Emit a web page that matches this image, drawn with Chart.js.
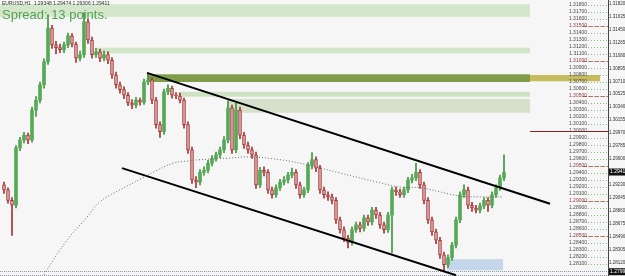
<!DOCTYPE html>
<html>
<head>
<meta charset="utf-8">
<script src="https://cdn.jsdelivr.net/npm/chart.js@4.4.1/dist/chart.umd.min.js"></script>
<style>
  html, body { margin: 0; padding: 0; background: #f6f6f6; }
  #wrap { width: 625px; height: 276px; }
</style>
</head>
<body>
<div id="wrap"><canvas id="chart" width="625" height="276"></canvas></div>
<script>
/* ── EURUSD H1 candles ── */
const opens = [
  1.2923,1.2916,1.2901,1.2894,1.2976,1.2987,1.2994,1.2987,1.3030,1.3044,
  1.3066,1.3099,1.3147,1.3123,1.3119,1.3116,1.3123,1.3136,1.3124,1.3104,
  1.3109,1.3156,1.3130,1.3109,1.3113,1.3104,1.3109,1.3101,1.3080,1.3066,
  1.3059,1.3051,1.3040,1.3037,1.3044,1.3041,1.3070,1.3073,1.3044,1.3009,
  1.2999,1.3056,1.3061,1.3051,1.3050,1.3044,1.3009,1.2973,1.2930,1.2927,
  1.2941,1.2944,1.2954,1.2961,1.2966,1.2973,1.2987,1.3033,1.2973,1.3030,
  1.2994,1.2980,1.2973,1.2966,1.2923,1.2944,1.2941,1.2916,1.2909,1.2919,
  1.2927,1.2930,1.2937,1.2941,1.2923,1.2909,1.2916,1.2951,1.2959,1.2947,
  1.2916,1.2909,1.2906,1.2901,1.2873,1.2859,1.2847,1.2841,1.2859,1.2866,
  1.2861,1.2876,1.2870,1.2887,1.2880,1.2866,1.2859,1.2880,1.2916,1.2913,
  1.2909,1.2916,1.2930,1.2933,1.2941,1.2923,1.2901,1.2873,1.2856,1.2844,
  1.2823,1.2809,1.2819,1.2837,1.2873,1.2909,1.2916,1.2894,1.2890,1.2887,
  1.2893,1.2901,1.2894,1.2909,1.2919,1.2933
];
const closes = [
  1.2916,1.2901,1.2894,1.2976,1.2987,1.2994,1.2987,1.3030,1.3044,1.3066,
  1.3099,1.3147,1.3123,1.3119,1.3116,1.3123,1.3136,1.3124,1.3104,1.3109,
  1.3156,1.3130,1.3109,1.3113,1.3104,1.3109,1.3101,1.3080,1.3066,1.3059,
  1.3051,1.3040,1.3037,1.3044,1.3041,1.3070,1.3073,1.3044,1.3009,1.2999,
  1.3056,1.3061,1.3051,1.3050,1.3044,1.3009,1.2973,1.2930,1.2927,1.2941,
  1.2944,1.2954,1.2961,1.2966,1.2973,1.2987,1.3033,1.2973,1.3030,1.2994,
  1.2980,1.2973,1.2966,1.2923,1.2944,1.2941,1.2916,1.2909,1.2919,1.2927,
  1.2930,1.2937,1.2941,1.2923,1.2909,1.2916,1.2951,1.2959,1.2947,1.2916,
  1.2909,1.2906,1.2901,1.2873,1.2859,1.2847,1.2841,1.2859,1.2866,1.2861,
  1.2876,1.2870,1.2887,1.2880,1.2866,1.2859,1.2880,1.2916,1.2913,1.2909,
  1.2916,1.2930,1.2933,1.2941,1.2923,1.2901,1.2873,1.2856,1.2844,1.2823,
  1.2809,1.2819,1.2837,1.2873,1.2909,1.2916,1.2894,1.2890,1.2887,1.2893,
  1.2901,1.2894,1.2909,1.2919,1.2933,1.2941
];
const highs = [
  1.2927,1.2919,1.2905,1.2979,1.2991,1.2998,1.2997,1.3034,1.3049,1.3070,
  1.3103,1.3166,1.3151,1.3128,1.3124,1.3127,1.3140,1.3139,1.3127,1.3114,
  1.3169,1.3160,1.3134,1.3118,1.3117,1.3114,1.3113,1.3105,1.3084,1.3070,
  1.3063,1.3055,1.3045,1.3048,1.3047,1.3074,1.3083,1.3076,1.3048,1.3013,
  1.3060,1.3066,1.3064,1.3055,1.3054,1.3047,1.3013,1.2977,1.2935,1.2945,
  1.2949,1.2958,1.2965,1.2970,1.2977,1.2992,1.3043,1.3037,1.3040,1.3034,
  1.2998,1.2984,1.2977,1.2970,1.2948,1.2949,1.2945,1.2920,1.2923,1.2931,
  1.2935,1.2941,1.2947,1.2945,1.2927,1.2920,1.2955,1.2969,1.2963,1.2951,
  1.2920,1.2913,1.2910,1.2905,1.2877,1.2863,1.2851,1.2863,1.2870,1.2870,
  1.2880,1.2880,1.2891,1.2891,1.2884,1.2870,1.2884,1.2920,1.2920,1.2917,
  1.2920,1.2934,1.2938,1.2954,1.2945,1.2927,1.2905,1.2877,1.2860,1.2848,
  1.2827,1.2823,1.2841,1.2877,1.2913,1.2923,1.2920,1.2898,1.2894,1.2897,
  1.2905,1.2905,1.2913,1.2923,1.2937,1.2966
];
const lows = [
  1.2911,1.2897,1.2851,1.2890,1.2972,1.2983,1.2982,1.2984,1.3021,1.3040,
  1.3061,1.3095,1.3118,1.3110,1.3112,1.3112,1.3119,1.3120,1.3098,1.3100,
  1.3105,1.3125,1.3104,1.3105,1.3099,1.3100,1.3096,1.3075,1.3061,1.3054,
  1.3046,1.3036,1.3032,1.3033,1.3037,1.3038,1.3066,1.3039,1.3004,1.2991,
  1.2995,1.3052,1.3047,1.3046,1.3040,1.3004,1.2968,1.2925,1.2919,1.2923,
  1.2937,1.2940,1.2950,1.2957,1.2962,1.2969,1.2983,1.2968,1.2969,1.2989,
  1.2975,1.2968,1.2961,1.2918,1.2919,1.2936,1.2911,1.2904,1.2905,1.2915,
  1.2923,1.2926,1.2933,1.2918,1.2904,1.2905,1.2912,1.2946,1.2942,1.2911,
  1.2904,1.2901,1.2896,1.2868,1.2854,1.2842,1.2833,1.2837,1.2855,1.2856,
  1.2857,1.2865,1.2866,1.2875,1.2861,1.2854,1.2855,1.2826,1.2908,1.2905,
  1.2905,1.2912,1.2926,1.2929,1.2918,1.2896,1.2868,1.2851,1.2839,1.2818,
  1.2800,1.2805,1.2815,1.2833,1.2869,1.2905,1.2889,1.2885,1.2883,1.2883,
  1.2889,1.2885,1.2890,1.2905,1.2915,1.2929
];

/* ── dotted moving average (bar index, price) ── */
const maIdx  = [9.5, 10.25, 15.75, 20.75, 24, 29, 34, 37.25, 42.25, 45.75, 49, 55.75, 61.5, 69, 76.5, 84, 94, 99, 104, 109, 114, 119, 124.75];
const maVals = [1.2787, 1.2797, 1.2844, 1.2877, 1.2899, 1.2916, 1.2931, 1.2941, 1.2954, 1.2957, 1.2959, 1.2961, 1.2963, 1.2959, 1.2951, 1.2940, 1.2926, 1.2920, 1.2919, 1.2913, 1.2907, 1.2906, 1.2906];

/* ── channel trend lines ── */
const upperLineIdx = [35.75, 136.5];
const upperLineVal = [1.3083, 1.2896];
const lowerLineIdx = [29.5, 113];
const lowerLineVal = [1.2947, 1.2794];

/* ── supply / demand zones ── */
const zoneFrom   = [-2, 23.25, 35.75, 43.5, 56, 131.5, 110.75];
const zoneTo     = [131.5, 131.5, 131.5, 131.5, 131.5, 149, 124.75];
const zoneTop    = [1.3181, 1.3119, 1.3081, 1.3056, 1.3046, 1.3080, 1.2817];
const zoneBottom = [1.3163, 1.3111, 1.3070, 1.3049, 1.3026, 1.3071, 1.2801];
const zoneColors = ['#d4e7cb', '#d1e5c8', '#7f9d48', '#cce2c2', '#d6e1cd', '#c7bc5c', '#c6d6ea'];

/* ── round-number levels in the right margin ── */
const levelVals = [
  1.318,1.317,1.316,1.315,1.314,1.313,1.312,1.311,1.310,1.309,
  1.308,1.307,1.306,1.305,1.304,1.303,1.302,1.301,1.300,1.299,
  1.298,1.297,1.296,1.295,1.294,1.293,1.292,1.291,1.290,1.289,
  1.288,1.287,1.286,1.285,1.284,1.283,1.282,1.281
];
const majorLevels = [1.315, 1.310, 1.305, 1.295, 1.290, 1.285];
const bottomLines = [1.2800, 1.2795];

/* ── price axis ticks ── */
const yTicks = [
  1.31820,1.31635,1.31450,1.31265,1.31080,1.30895,1.30710,1.30525,1.30340,1.30155,
  1.29970,1.29785,1.29600,1.29415,1.29230,1.29045,1.28860,1.28675,1.28490,1.28305,1.28120
];
const bidPrice = 1.29414;
const lowMark = 1.27990;

const BULL = '#3f943f', BULL_FILL = '#56a956';
const BEAR = '#a63333', BEAR_FILL = '#dcaaaa';

const idx = closes.map((_, i) => i);
const bodies = idx.map(i => ({ x: i, y: [opens[i], closes[i]] }));
const wicks  = idx.map(i => ({ x: i, y: [lows[i], highs[i]] }));
const isBull = idx.map(i => closes[i] >= opens[i]);

/* ── overlay drawing: zones behind, labels on top ── */
const overlay = {
  id: 'overlay',
  beforeDatasetsDraw(chart) {
    const { ctx, chartArea: a, scales: { x, y } } = chart;
    ctx.save();
    zoneFrom.forEach((f, k) => {
      const x1 = Math.max(a.left, x.getPixelForValue(f));
      const x2 = x.getPixelForValue(zoneTo[k]);
      const y1 = y.getPixelForValue(zoneTop[k]);
      const y2 = y.getPixelForValue(zoneBottom[k]);
      ctx.fillStyle = zoneColors[k];
      ctx.fillRect(x1, y1, x2 - x1, y2 - y1);
    });
    ctx.lineWidth = 1;
    ctx.setLineDash([1, 2]);
    ctx.strokeStyle = '#86bf86';
    levelVals.forEach(v => {
      const py = Math.round(y.getPixelForValue(v)) + 0.5;
      ctx.beginPath(); ctx.moveTo(588, py); ctx.lineTo(a.right, py); ctx.stroke();
    });
    ctx.setLineDash([4, 2]);
    ctx.strokeStyle = '#c46a6a';
    majorLevels.forEach(v => {
      const py = Math.round(y.getPixelForValue(v)) + 0.5;
      ctx.beginPath(); ctx.moveTo(583, py); ctx.lineTo(a.right, py); ctx.stroke();
    });
    ctx.setLineDash([]);
    ctx.strokeStyle = '#8e1f1f';
    const p0 = Math.round(y.getPixelForValue(1.3)) + 0.5;
    ctx.beginPath(); ctx.moveTo(x.getPixelForValue(131.5), p0); ctx.lineTo(a.right, p0); ctx.stroke();
    ctx.setLineDash([1, 1]);
    ctx.strokeStyle = '#8a97a8';
    bottomLines.forEach(v => {
      const py = Math.round(y.getPixelForValue(v)) + 0.5;
      ctx.beginPath(); ctx.moveTo(a.left, py); ctx.lineTo(a.right, py); ctx.stroke();
    });
    ctx.restore();
  },
  afterDraw(chart) {
    const { ctx, chartArea: a, scales: { y } } = chart;
    ctx.save();
    ctx.fillStyle = '#333';
    ctx.font = '5px "Liberation Sans"';
    ctx.textBaseline = 'top';
    ctx.fillText('EURUSD,H1  1.29348 1.29474 1.29306 1.29411', 2, 1);
    ctx.fillStyle = '#55a055';
    ctx.font = '13px "Liberation Sans"';
    ctx.textBaseline = 'alphabetic';
    ctx.fillText('Spread: 13 points.', 2, 19);
    ctx.font = '5px "Liberation Sans"';
    ctx.textBaseline = 'middle';
    ctx.textAlign = 'right';
    levelVals.forEach(v => {
      ctx.fillStyle = majorLevels.includes(v) ? '#8a3b3b' : '#4a4a4a';
      ctx.fillText(v.toFixed(5), 587, y.getPixelForValue(v));
    });
    ctx.textAlign = 'left';
    [bidPrice, lowMark].forEach(v => {
      const py = Math.min(y.getPixelForValue(v), 272);
      ctx.fillStyle = '#111';
      ctx.fillRect(a.right + 1, py - 3.5, 625 - a.right - 1, 7);
      ctx.fillStyle = '#fff';
      ctx.fillText(v.toFixed(5), a.right + 2, py);
    });
    ctx.restore();
  }
};

new Chart(document.getElementById('chart'), {
  type: 'bar',
  data: {
    datasets: [
      {
        type: 'line', data: maIdx.map((v, k) => ({ x: v, y: maVals[k] })),
        borderColor: '#6a6a6a', borderWidth: 1, borderDash: [1, 2],
        pointRadius: 0, tension: 0.4, order: 0
      },
      {
        type: 'line', data: upperLineIdx.map((v, k) => ({ x: v, y: upperLineVal[k] })),
        borderColor: '#000', borderWidth: 2, pointRadius: 0, order: 0
      },
      {
        type: 'line', data: lowerLineIdx.map((v, k) => ({ x: v, y: lowerLineVal[k] })),
        borderColor: '#000', borderWidth: 2, pointRadius: 0, order: 0
      },
      {
        data: bodies, grouped: false, barThickness: 3, minBarLength: 1,
        backgroundColor: isBull.map(b => b ? BULL_FILL : BEAR_FILL),
        borderColor: isBull.map(b => b ? BULL_FILL : BEAR),
        borderWidth: isBull.map(b => b ? 0 : 1), borderSkipped: false, order: 1
      },
      {
        data: wicks, grouped: false, barThickness: 1,
        backgroundColor: isBull.map(b => b ? BULL : BEAR),
        order: 2
      }
    ]
  },
  options: {
    responsive: false,
    animation: false,
    events: [],
    layout: { padding: 0 },
    plugins: { legend: { display: false }, tooltip: { enabled: false } },
    scales: {
      x: { type: 'linear', min: -1, max: 151, offset: false, display: false },
      y: {
        type: 'linear', position: 'right', min: 1.27929, max: 1.31871,
        grid: { display: false, drawTicks: false },
        border: { display: true, color: '#444', width: 1 },
        afterBuildTicks: s => { s.ticks = yTicks.map(v => ({ value: v })); },
        afterFit: s => { s.width = 17; s.paddingTop = 0; s.paddingBottom = 0; },
        ticks: {
          font: { family: 'Liberation Sans', size: 4.5 }, color: '#333', padding: 1,
          callback: v => v.toFixed(5)
        }
      }
    }
  },
  plugins: [overlay]
});
</script>
</body>
</html>
